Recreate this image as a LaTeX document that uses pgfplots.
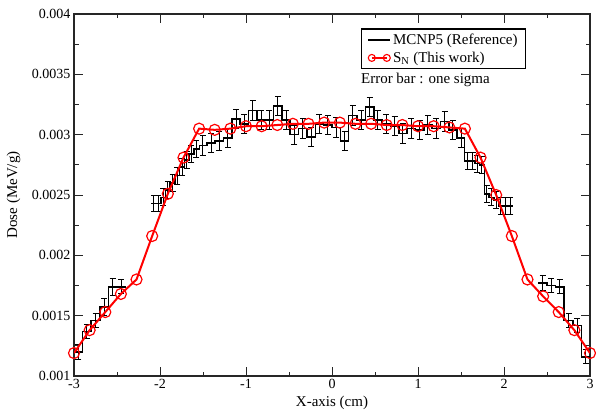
\documentclass[border=0pt]{standalone}
\usepackage{fontspec}
\setmainfont{Liberation Serif}
\usepackage{pgfplots}
\usepackage{pgfplotstable}
\pgfplotsset{compat=1.18}

% MCNP5 tallies: bin centre, dose, one sigma (first/last rows close the steps)
\pgfplotstableread{
x       y        e
-3.000  0.00120  0
-2.950  0.00120  0.00006
-2.850  0.00137  0.00006
-2.750  0.00146  0.00006
-2.650  0.00157  0.00007
-2.550  0.00174  0.00007
-2.450  0.00174  0.00006
-2.400  0.00174  0
}\mcnpA

\pgfplotstableread{
x        y        e
-2.1000  0.00243  0
-2.0726  0.00243  0.00007
-2.0178  0.00243  0.00007
-1.9630  0.00248  0.00007
-1.9082  0.00254  0.00007
-1.8534  0.00260  0.00007
-1.7986  0.00266  0.00007
-1.7438  0.00273  0.00007
-1.6890  0.00279  0.00007
-1.6342  0.00284  0.00007
-1.5794  0.00288  0.00007
-1.5035  0.00291  0.00008
-1.4065  0.00293  0.00008
-1.3095  0.00295  0.00008
-1.2125  0.00297  0.00008
-1.1155  0.00313  0.00008
-1.0185  0.00309  0.00008
-0.9215  0.00320  0.00008
-0.8245  0.00312  0.00008
-0.7275  0.00312  0.00008
-0.6305  0.00324  0.00008
-0.5335  0.00312  0.00008
-0.4365  0.00300  0.00008
-0.3395  0.00305  0.00008
-0.2425  0.00298  0.00008
-0.1455  0.00309  0.00008
-0.0485  0.00308  0.00008
 0.0485  0.00306  0.00008
 0.1455  0.00295  0.00008
 0.2425  0.00316  0.00008
 0.3395  0.00312  0.00008
 0.4365  0.00323  0.00008
 0.5335  0.00312  0.00008
 0.6305  0.00309  0.00008
 0.7275  0.00307  0.00008
 0.8245  0.00301  0.00008
 0.9215  0.00305  0.00008
 1.0185  0.00304  0.00008
 1.1155  0.00308  0.00008
 1.2125  0.00305  0.00008
 1.3095  0.00311  0.00008
 1.4065  0.00304  0.00008
 1.5035  0.00297  0.00008
 1.5794  0.00278  0.00007
 1.6342  0.00278  0.00007
 1.6890  0.00276  0.00007
 1.7438  0.00275  0.00007
 1.7986  0.00251  0.00007
 1.8534  0.00248  0.00007
 1.9082  0.00246  0.00007
 1.9630  0.00241  0.00007
 2.0178  0.00241  0.00007
 2.0726  0.00241  0.00007
 2.1000  0.00241  0
}\mcnpB

\pgfplotstableread{
x       y        e
 2.400  0.00177  0
 2.450  0.00177  0.00006
 2.550  0.00175  0.00006
 2.650  0.00174  0.00006
 2.750  0.00146  0.00006
 2.850  0.00142  0.00006
 2.950  0.00116  0.00006
 3.000  0.00116  0
}\mcnpC

% S_N solution
\pgfplotstableread{
x       y
-3.000  0.00119
-2.818  0.00138
-2.636  0.00153
-2.455  0.00168
-2.273  0.00180
-2.091  0.00216
-1.909  0.00251
-1.727  0.00281
-1.545  0.00305
-1.364  0.00304
-1.182  0.00305
-1.000  0.00307
-0.818  0.00307
-0.636  0.00308
-0.455  0.00309
-0.273  0.00309
-0.091  0.00310
 0.091  0.00310
 0.273  0.00309
 0.455  0.00309
 0.636  0.00308
 0.818  0.00308
 1.000  0.00307
 1.182  0.00307
 1.364  0.00306
 1.545  0.00305
 1.727  0.00281
 1.909  0.00250
 2.091  0.00216
 2.273  0.00180
 2.455  0.00166
 2.636  0.00153
 2.818  0.00138
 3.000  0.00119
}\sn

\begin{document}
\begin{tikzpicture}
\begin{axis}[
  width=516pt, height=362pt, scale only axis,
  xmin=-3, xmax=3, ymin=0.001, ymax=0.004,
  xtick={-3,-2,-1,0,1,2,3}, minor x tick num=1,
  ytick={0.001,0.0015,0.002,0.0025,0.003,0.0035,0.004},
  yticklabels={0.001,0.0015,0.002,0.0025,0.003,0.0035,0.004},
  minor y tick num=1, scaled y ticks=false,
  tick align=inside, major tick length=9pt, minor tick length=4.5pt,
  tick style={line width=1pt, black!85},
  axis line style={line width=1.2pt, black!85},
  ticklabel style={font=\fontsize{14}{16}\selectfont},
  /pgf/number format/assume math mode=true,
  xlabel={X-axis (cm)}, ylabel={Dose (MeV/g)},
  label style={font=\fontsize{15}{17}\selectfont},
  xlabel style={at={(axis description cs:0.5,-0.0746)}, anchor=center},
  ylabel style={at={(axis description cs:-0.117,0.5)}, anchor=center},
  legend style={at={(rel axis cs:0.556,0.9605)}, anchor=north west,
    draw=black, line width=1.2pt, font=\fontsize{15}{17}\selectfont,
    inner xsep=6pt, inner ysep=3pt, row sep=2pt},
  legend cell align={left},
  ebar/.style={draw=none, mark=none, forget plot,
    error bars/.cd, y dir=both, y explicit,
    error bar style={draw=black, line width=1pt},
    error mark options={draw=black, rotate=90, mark size=3pt, line width=1pt}},
]
% histogram
\addplot[black, line width=1.6pt, const plot mark mid,
  legend image code/.code={\draw[black, line width=1.6pt] (0pt,0pt) -- (22pt,0pt);}]
  table[x=x, y=y] {\mcnpA};
\addlegendentry{MCNP5 (Reference)}
\addplot[black, line width=1.6pt, const plot mark mid, forget plot]
  table[x=x, y=y] {\mcnpB};
\addplot[black, line width=1.6pt, const plot mark mid, forget plot]
  table[x=x, y=y] {\mcnpC};

% error bars at bin centres
\addplot[skip coords between index={0}{1}, skip coords between index={7}{8}, ebar]
  table[x=x, y=y, y error=e] {\mcnpA};
\addplot[skip coords between index={0}{1}, skip coords between index={53}{54}, ebar]
  table[x=x, y=y, y error=e] {\mcnpB};
\addplot[skip coords between index={0}{1}, skip coords between index={7}{8}, ebar]
  table[x=x, y=y, y error=e] {\mcnpC};

% S_N
\addplot[red, line width=2pt, mark=o, mark size=5.5pt,
  mark options={line width=1.2pt, fill=none},
  legend image code/.code={\draw[red, line width=2pt] (3.5pt,0pt) -- (18.5pt,0pt);
    \draw[red, line width=1.1pt] (3.5pt,0pt) circle (3.5pt) (18.5pt,0pt) circle (3.5pt);}]
  table[x=x, y=y] {\sn};
\addlegendentry{S\textsubscript{N} (This work)}

\node[anchor=west, inner sep=0pt, font=\fontsize{15}{17}\selectfont]
  at (rel axis cs:0.556,0.818) {Error bar : one sigma};

\coordinate (bl) at (rel axis cs:0,0);
\coordinate (tr) at (rel axis cs:1,1);
\end{axis}
\pgfresetboundingbox
\useasboundingbox ([xshift=-74pt,yshift=-37pt]bl) rectangle ([xshift=6pt,yshift=14pt]tr);
\end{tikzpicture}
\end{document}
